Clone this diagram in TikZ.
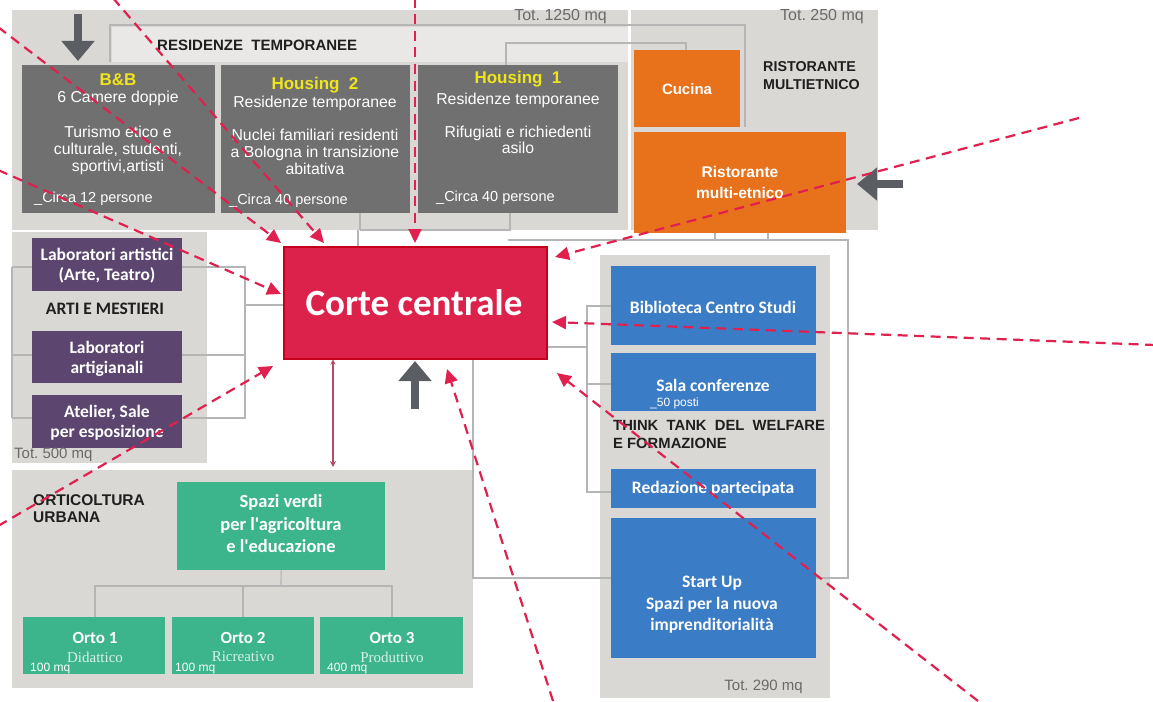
\documentclass[tikz,border=0pt]{standalone}
\usepackage{fontspec}
\setmainfont{Liberation Sans}
\newfontfamily\calfont{Carlito}
\newfontfamily\serfont{Liberation Serif}
\usetikzlibrary{arrows.meta}
\definecolor{regiongray}{HTML}{DAD8D5}
\definecolor{lightregion}{HTML}{E9E8E6}
\definecolor{boxgray}{HTML}{707070}
\definecolor{orangebox}{HTML}{E8721C}
\definecolor{purplebox}{HTML}{5C4670}
\definecolor{greenbox}{HTML}{3DB58C}
\definecolor{bluebox}{HTML}{3A7CC6}
\definecolor{cortered}{HTML}{DC224A}
\definecolor{corteborder}{HTML}{C4001C}
\definecolor{dashred}{HTML}{E0204E}
\definecolor{titleyellow}{HTML}{EEE51C}
\definecolor{linegray}{HTML}{B5B5B5}
\definecolor{arrowgray}{HTML}{5A5E63}
\definecolor{totgray}{HTML}{6A6A6A}
\tikzset{
  region/.style={fill=regiongray, draw=none},
  boxbase/.style={draw=none, anchor=north west, inner sep=0pt},
  graybox/.style={boxbase, fill=boxgray},
  orangebox/.style={boxbase, fill=orangebox},
  purplebox/.style={boxbase, fill=purplebox},
  greenbox/.style={boxbase, fill=greenbox},
  bluebox/.style={boxbase, fill=bluebox},
  wtext/.style={text=white, align=center, inner sep=0pt, font=\fontsize{15.8}{17}\selectfont},
  foot/.style={text=white, anchor=west, inner sep=0pt, font=\fontsize{14.5}{16}\selectfont},
  ytitle/.style={text=titleyellow, inner sep=0pt, font=\bfseries\fontsize{17}{19}\selectfont},
  caltext/.style={text=white, align=center, inner sep=0pt, font=\calfont\bfseries\fontsize{17.5}{20}\selectfont},
  heading/.style={text=black!88, align=left, inner sep=0pt, font=\bfseries\fontsize{15}{17}\selectfont},
  tottext/.style={text=totgray, inner sep=0pt, font=\fontsize{16}{18}\selectfont},
  thinline/.style={draw=linegray, line width=1.2pt},
  dasharrow/.style={draw=dashred, line width=2.2pt, dash pattern=on 10pt off 6.5pt, -{Triangle[length=14pt,width=13pt]}},
  blockarrow/.style={draw=arrowgray, line width=8pt, -{Triangle[length=20pt,width=32pt]}},
}
\begin{document}
\begin{tikzpicture}[x=1pt,y=-1pt]
\useasboundingbox (0,0) rectangle (1153,701);
\fill[white] (0,0) rectangle (1153,701);

% ---------- regions ----------
\fill[region] (12,10) rectangle (628,230);
\fill[lightregion] (112,27) rectangle (628,62);
\fill[region] (631,10) rectangle (878,230);
\fill[region] (12,232) rectangle (207,463);
\fill[region] (12,470) rectangle (473,688);
\fill[region] (600,255) rectangle (830,698);

% ---------- thin structure lines ----------
\draw[thinline] (110,62) -- (110,25) -- (745,25) -- (745,127);
\draw[thinline] (506,65) -- (506,43) -- (686,43) -- (686,50);
\draw[thinline] (360,213) -- (360,230);
\draw[thinline] (510,213) -- (510,230) -- (360,230);
\draw[thinline] (358,230) -- (358,246);
\draw[thinline] (12,267) -- (245,267) -- (245,418) -- (12,418);
\draw[thinline] (12,267) -- (12,418);
\draw[thinline] (12,355) -- (245,355);
\draw[thinline] (245,305) -- (283,305);
\draw[thinline] (508,240) -- (848,240) -- (848,578) -- (473,578) -- (473,347);
\draw[thinline] (715,233) -- (715,240);
\draw[thinline] (768,233) -- (768,240);
\draw[thinline] (546,347) -- (587,347);
\draw[thinline] (611,306) -- (587,306) -- (587,492) -- (611,492);
\draw[thinline] (587,384) -- (611,384);

% ---------- residenze temporanee ----------
\node[heading, anchor=west] (resT) at (157,45) {RESIDENZE\ \ TEMPORANEE};
\node[tottext, anchor=east] (tot1) at (607,17) {Tot.\ 1250 mq};

\node[graybox, minimum width=193, minimum height=148] (bb) at (22,65) {};
\node[ytitle] (bbT) at (118,80) {B\&B};
\node[wtext] (bbS) at (118,98) {6 Camere doppie};
\node[wtext] (bbB) at (118,150) {Turismo etico e\\culturale, studenti,\\sportivi,artisti};
\node[foot] (bbF) at (34,199) {\_Circa 12 persone};

\node[graybox, minimum width=189, minimum height=148] (h2) at (221,65) {};
\node[ytitle] (h2T) at (315,85) {Housing\ \ 2};
\node[wtext] (h2S) at (315,103) {Residenze temporanee};
\node[wtext] (h2B) at (315,152) {Nuclei familiari residenti\\a Bologna in transizione\\abitativa};
\node[foot] (h2F) at (229,201) {\_Circa 40 persone};

\node[graybox, minimum width=200, minimum height=148] (h1) at (418,65) {};
\node[ytitle] (h1T) at (518,79) {Housing\ \ 1};
\node[wtext] (h1S) at (518,100) {Residenze temporanee};
\node[wtext, font=\fontsize{15.8}{15.5}\selectfont] (h1B) at (518,140) {Rifugiati e richiedenti\\asilo};
\node[foot] (h1F) at (436,198) {\_Circa 40 persone};

% ---------- ristorante ----------
\node[tottext, anchor=east] (tot2) at (864,17) {Tot.\ 250 mq};
\node[orangebox, minimum width=106, minimum height=77] (cuc) at (634,50) {};
\node[wtext, font=\bfseries\fontsize{15}{17}\selectfont] (cucT) at (687,89) {Cucina};
\node[orangebox, minimum width=212, minimum height=101] (rist) at (634,132) {};
\node[wtext, font=\bfseries\fontsize{15.5}{21}\selectfont] (ristT) at (740,182) {Ristorante\\multi-etnico};
\node[heading, anchor=north west, font=\bfseries\fontsize{14.3}{18}\selectfont] (ristH) at (763,61) {RISTORANTE\\MULTIETNICO};

% ---------- arti e mestieri ----------
\node[purplebox, minimum width=150, minimum height=53] (lab1) at (32,238) {};
\node[caltext] (lab1T) at (107,266) {Laboratori artistici\\(Arte, Teatro)};
\node[heading, font=\calfont\bfseries\fontsize{17.5}{19}\selectfont] (artiH) at (105,309) {ARTI E MESTIERI};
\node[purplebox, minimum width=150, minimum height=52] (lab2) at (32,331) {};
\node[caltext] (lab2T) at (107,359) {Laboratori\\artigianali};
\node[purplebox, minimum width=150, minimum height=53] (lab3) at (32,395) {};
\node[caltext] (lab3T) at (107,423) {Atelier, Sale\\per esposizione};
\node[tottext, anchor=west, font=\fontsize{15}{16}\selectfont] (tot3) at (14,455) {Tot.\ 500 mq};

% ---------- corte centrale ----------
\node[boxbase, fill=cortered, draw=corteborder, line width=1.5pt, minimum width=263, minimum height=112] (corte) at (283,246) {};
\node[text=white, inner sep=0pt, font=\calfont\bfseries\fontsize{37}{40}\selectfont] (corteT) at (414,303) {Corte centrale};
\draw[draw=dashred!55!gray, line width=1.4pt, {Stealth[length=5pt,width=5pt]}-{Stealth[length=6pt,width=6pt]}] (corte.south -| 333,0) -- (333,467);

% ---------- orticoltura ----------
\node[heading, anchor=north west, font=\bfseries\fontsize{15.5}{17}\selectfont] (ortH) at (33,494) {ORTICOLTURA\\URBANA};
\node[greenbox, minimum width=208, minimum height=88] (spazi) at (177,482) {};
\node[caltext, font=\calfont\bfseries\fontsize{18.5}{22.5}\selectfont] (spaziT) at (281,524) {Spazi verdi\\per l'agricoltura\\e l'educazione};
\draw[thinline] (spazi.south) -- (281,586);
\draw[thinline] (95,617) -- (95,586) -- (392,586) -- (392,617);
\draw[thinline] (243,586) -- (243,617);
\node[greenbox, minimum width=142, minimum height=57] (o1) at (23,617) {};
\node[greenbox, minimum width=142, minimum height=57] (o2) at (172,617) {};
\node[greenbox, minimum width=143, minimum height=57] (o3) at (320,617) {};
\node[caltext, font=\calfont\bfseries\fontsize{17}{19}\selectfont] (o1T) at (95,638) {Orto 1};
\node[caltext, font=\calfont\bfseries\fontsize{17}{19}\selectfont] (o2T) at (243,638) {Orto 2};
\node[caltext, font=\calfont\bfseries\fontsize{17}{19}\selectfont] (o3T) at (392,638) {Orto 3};
\node[text=white!80!greenbox, inner sep=0pt, font=\serfont\fontsize{15}{16}\selectfont] (o1S) at (95,657) {Didattico};
\node[text=white!80!greenbox, inner sep=0pt, font=\serfont\fontsize{15}{16}\selectfont] (o2S) at (243,657) {Ricreativo};
\node[text=white!80!greenbox, inner sep=0pt, font=\serfont\fontsize{15}{16}\selectfont] (o3S) at (392,657) {Produttivo};
\node[text=white, anchor=west, inner sep=0pt, font=\fontsize{12}{13}\selectfont] (o1M) at (30,669) {100 mq};
\node[text=white, anchor=west, inner sep=0pt, font=\fontsize{12}{13}\selectfont] (o2M) at (175,669) {100 mq};
\node[text=white, anchor=west, inner sep=0pt, font=\fontsize{12}{13}\selectfont] (o3M) at (327,669) {400 mq};

% ---------- think tank ----------
\node[bluebox, minimum width=205, minimum height=79] (bib) at (611,266) {};
\node[caltext] (bibT) at (713,307) {Biblioteca Centro Studi};
\node[bluebox, minimum width=205, minimum height=58] (sala) at (611,353) {};
\node[caltext] (salaT) at (713,385) {Sala conferenze};
\node[text=white, anchor=west, inner sep=0pt, font=\fontsize{12}{13}\selectfont] (salaS) at (650,403) {\_50 posti};
\node[heading, anchor=north west, font=\bfseries\fontsize{14.8}{18.5}\selectfont] (thinkH) at (613,420) {THINK\ \ TANK\ \ DEL\ \ WELFARE\\E FORMAZIONE};
\node[bluebox, minimum width=205, minimum height=39] (red) at (611,469) {};
\node[caltext] (redT) at (713,489) {Redazione partecipata};
\node[bluebox, minimum width=205, minimum height=140] (start) at (611,518) {};
\node[caltext, font=\calfont\bfseries\fontsize{17.5}{21.5}\selectfont] (startT) at (712,605) {Start Up\\Spazi per la nuova\\imprenditorialità};
\node[tottext, anchor=east, font=\fontsize{15}{16}\selectfont] (tot4) at (803,687) {Tot.\ 290 mq};

% ---------- grey block arrows ----------
\draw[blockarrow] (78,14) -- (78,61);
\draw[blockarrow] (415,409) -- (415,361);
\draw[blockarrow] (903,184) -- (857,184);

% ---------- dashed connectors ----------
\coordinate (sA) at (-2,27);
\coordinate (eA) at (281,243);
\coordinate (sB) at (113,-2);
\coordinate (eB) at (324,243);
\coordinate (sC) at (415,-2);
\coordinate (eC) at (415,243);
\coordinate (sD) at (-2,170);
\coordinate (eD) at (281,294);
\coordinate (sE) at (-2,526);
\coordinate (eE) at (273,366);
\coordinate (sF) at (1079,118);
\coordinate (eF) at (555,257);
\coordinate (sG) at (1155,345);
\coordinate (eG) at (552,322);
\coordinate (sH) at (978,701);
\coordinate (eH) at (557,373);
\coordinate (sI) at (553,701);
\coordinate (eI) at (447,369);
\draw[dasharrow] (sA) -- (eA);
\draw[dasharrow] (sB) -- (eB);
\draw[dasharrow] (sC) -- (eC);
\draw[dasharrow] (sD) -- (eD);
\draw[dasharrow] (sE) -- (eE);
\draw[dasharrow] (sF) -- (eF);
\draw[dasharrow] (sG) -- (eG);
\draw[dasharrow] (sH) -- (eH);
\draw[dasharrow] (sI) -- (eI);
\end{tikzpicture}
\end{document}
